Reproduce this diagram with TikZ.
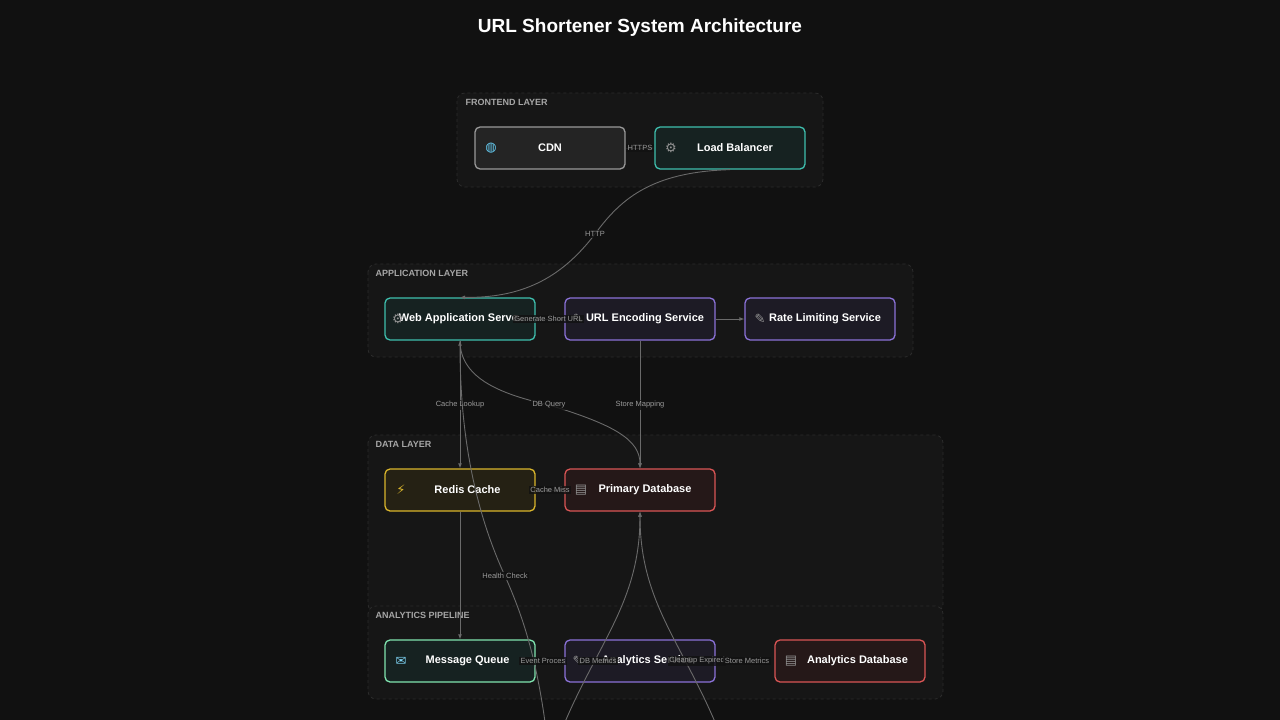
\documentclass[tikz,border=0pt]{standalone}
\usepackage{fontspec}
\setmainfont{Liberation Sans}
\newfontfamily\symfont{DejaVu Sans}
\usetikzlibrary{arrows.meta,positioning}
\definecolor{bg}{HTML}{111111}
\definecolor{grpfill}{HTML}{161616}
\definecolor{grpline}{HTML}{2C2C2C}
\definecolor{edgec}{HTML}{6A6A6A}
\definecolor{lblc}{HTML}{9A9A9A}
\definecolor{purpc}{HTML}{8B72D8}
\definecolor{tealc}{HTML}{3FBFAE}
\definecolor{yellc}{HTML}{D9B52C}
\definecolor{redc}{HTML}{D95555}
\tikzset{
svc/.style = {draw, rounded corners=5pt, line width=1.3pt, minimum width=150pt, minimum height=42pt, text=white, font=\bfseries\fontsize{11}{13}\selectfont},
teal/.style = {svc, draw=tealc, fill=tealc!10!bg},
purp/.style = {svc, draw=purpc, fill=purpc!10!bg},
redn/.style = {svc, draw=redc, fill=redc!10!bg},
yell/.style = {svc, draw=yellc, fill=yellc!10!bg},
grey/.style = {svc, draw=gray!80, fill=white!8!bg},
group/.style = {draw=grpline, dashed, fill=grpfill, rounded corners=8pt, line width=0.8pt},
grptitle/.style = {anchor=north west, text=gray!70, font=\bfseries\fontsize{9}{10}\selectfont},
conn/.style = {draw=edgec, line width=0.9pt, -{Latex[length=5pt,width=4pt]}},
lbl/.style = {text=lblc, fill=bg, fill opacity=0.8, text opacity=1, inner sep=1.5pt, font=\fontsize{7.5}{9}\selectfont},
icon/.style = {font=\symfont\fontsize{13}{13}\selectfont, text=gray!85}
}
\begin{document}
\begin{tikzpicture}[x=1pt, y=-1pt]
  \fill[bg] (0,0) rectangle (1280,720);
  \useasboundingbox (0,0) rectangle (1280,720);
  \node[text=white, font=\bfseries\fontsize{19}{24}\selectfont] (title) at (640,28) {URL Shortener System Architecture};

  % layers
  \draw[group] (457,93) rectangle (823,187);
  \node[grptitle] at (462,96) {FRONTEND LAYER};
  \draw[group] (368,264) rectangle (913,357);
  \node[grptitle] at (372,267) {APPLICATION LAYER};
  \draw[group] (368,435) rectangle (943,612);
  \node[grptitle] at (372,438) {DATA LAYER};
  \draw[group] (368,606) rectangle (943,699);
  \node[grptitle] at (372,609) {ANALYTICS PIPELINE};

  % services
  \node[grey] (cdn)  at (550,148) {CDN};
  \node[teal] (lb)   at (730,148) {\hspace{10pt}Load Balancer};
  \node[teal] (web)  at (460,319) {\hspace{6pt}Web Application Serve...};
  \node[purp] (enc)  at (640,319) {\hspace{10pt}URL Encoding Service};
  \node[purp] (rate) at (820,319) {\hspace{10pt}Rate Limiting Service};
  \node[yell] (redis) at (460,490) {\hspace{15pt}Redis Cache};
  \node[redn] (pdb)  at (640,490) {\hspace{10pt}Primary Database};
  \node[teal, draw=tealc!70!green!60!white] (mq) at (460,661) {\hspace{15pt}Message Queue};
  \node[purp] (ana)  at (640,661) {\hspace{15pt}Analytics Service};
  \node[redn] (adb)  at (850,661) {\hspace{15pt}Analytics Database};

  % icons
  \node[icon, text=cyan!60] at (491,148) {◍};
  \node[icon] at (671,148) {⚙};
  \node[icon] at (398,319) {⚙};
  \node[icon] at (578,319) {✎};
  \node[icon] at (760,319) {✎};
  \node[icon, text=yellc] at (401,490) {⚡};
  \node[icon] at (581,490) {▤};
  \node[icon, text=cyan!50] at (401,661) {✉};
  \node[icon] at (578,661) {✎};
  \node[icon] at (791,661) {▤};

  % off-canvas ends
  \coordinate (hc) at (545,722);
  \coordinate (m1) at (565,722);
  \coordinate (m2) at (715,722);

  % connectors
  \draw[conn] (cdn) -- node[lbl] {HTTPS} (lb);
  \draw[conn] (lb.south) .. controls (650,172) and (620,200) .. (595,234) .. controls (560,280) and (520,298) .. (web.north);
  \node[lbl] at (595,234) {HTTP};
  \draw[conn] (web) -- node[lbl, pos=0.45] {Generate Short URL} (enc);
  \draw[conn] (enc) -- (rate);
  \draw[conn] (web.south) -- node[lbl, pos=0.5] {Cache Lookup} (redis.north);
  \draw[conn] (web.south) .. controls (460,380) and (505,395) .. (549,405) .. controls (615,425) and (640,440) .. (pdb.north);
  \node[lbl] at (549,405) {DB Query};
  \draw[conn] (enc.south) -- node[lbl, pos=0.5] {Store Mapping} (pdb.north);
  \draw[conn] (redis) -- node[lbl] {Cache Miss} (pdb);
  \draw[conn] (redis.south) -- (mq.north);
  \draw[conn] (hc) .. controls (535,650) and (520,610) .. (505,576) .. controls (470,500) and (460,420) .. (web.south);
  \node[lbl, fill opacity=0.9] at (505,576) {Health Check};
  \draw[conn] (m1) .. controls (600,640) and (640,600) .. (pdb.south);
  \draw[conn] (m2) .. controls (680,640) and (640,600) .. (pdb.south);
  \node[lbl] (ep) at (543,661) {Event Proces};
  \node[lbl] (dm) at (598,661) {DB Metrics};
  \node[lbl] (ce) at (697,661) {Cleanup Expired};
  \node[lbl] (sm) at (747,661) {Store Metrics};
\end{tikzpicture}
\end{document}
